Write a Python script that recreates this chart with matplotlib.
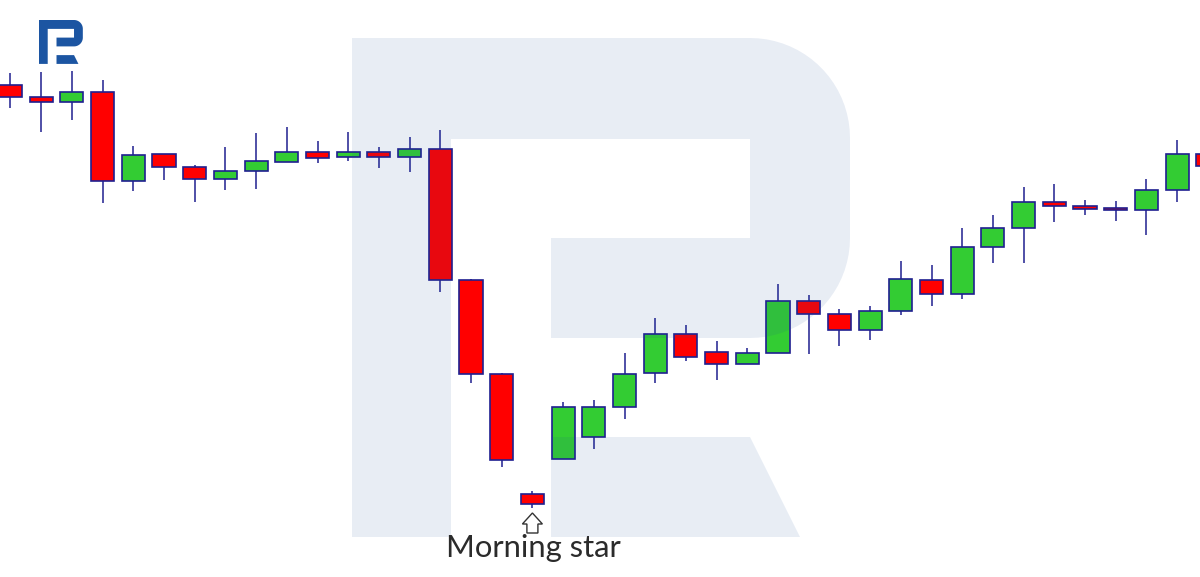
import numpy as np
import matplotlib
matplotlib.use("Agg")
import matplotlib.pyplot as plt
from matplotlib.patches import Polygon, Rectangle

# candle data (price units)
opens  = [492, 480, 475, 485, 396, 423, 410, 398, 406, 415, 425, 420, 425, 420, 428, 297, 203, 83,
          118, 140, 170, 204, 243, 225, 213, 224, 276, 263, 247, 266, 297, 283, 330, 349, 375, 371,
          369, 367, 387, 423]
closes = [480, 475, 485, 396, 422, 410, 398, 406, 416, 425, 419, 425, 420, 428, 297, 203, 117, 73,
          170, 170, 203, 243, 220, 213, 224, 276, 263, 247, 266, 298, 283, 330, 349, 375, 371, 368,
          367, 387, 423, 411]
highs  = [504, 505, 506, 497, 431, 423, 412, 430, 444, 450, 436, 445, 430, 440, 447, 298, 204, 86,
          175, 177, 224, 259, 252, 236, 229, 293, 282, 268, 271, 316, 312, 349, 362, 390, 393, 377,
          376, 398, 437, 430]
lows   = [469, 445, 457, 374, 386, 397, 375, 387, 388, 415, 414, 416, 409, 405, 285, 194, 110, 69,
          118, 128, 158, 194, 216, 197, 213, 224, 223, 231, 237, 262, 271, 278, 314, 314, 355, 362,
          356, 342, 375, 405]
label = "Morning star"
star_idx = 17

W, H = 1200, 577
fig = plt.figure(figsize=(12, 5.77), dpi=100)
fig.patch.set_facecolor("white")

ax = fig.add_axes([0, 0, 1, 1])
ax.set_xlim(-10.5 / 30.7, (W - 10.5) / 30.7)
ax.set_ylim(0, H)
ax.axis("off")

edge = "#1f1f90"
bw = 0.75
for i in range(len(opens)):
    o, c, h, l = opens[i], closes[i], highs[i], lows[i]
    col = "#33cc33" if c > o else "#ff0000"
    ax.plot([i, i], [l, h], color=edge, lw=1.1, zorder=1, solid_capstyle="butt")
    ax.add_patch(Rectangle((i - bw / 2, min(o, c)), bw, max(abs(c - o), 1.5),
                           facecolor=col, edgecolor=edge, lw=1.2, zorder=2))

# overlay in pixel coords for watermark, logo, arrow, text
ov = fig.add_axes([0, 0, 1, 1], zorder=5)
ov.set_xlim(0, W)
ov.set_ylim(H, 0)
ov.axis("off")
ov.patch.set_alpha(0)


def r_shapes(x0, y0, s):
    t1 = np.linspace(np.pi / 2, 0, 20)
    t2 = np.linspace(0, -np.pi / 2, 20)
    pts = [(352, 537), (352, 38)]
    pts += [(750 + 100 * np.cos(t), 138 - 100 * np.sin(t)) for t in t1]
    pts += [(750 + 100 * np.cos(t), 238 - 100 * np.sin(t)) for t in t2]
    pts += [(551, 338), (551, 238), (750, 238), (750, 139), (451, 139), (451, 537)]
    leg = [(551, 437), (750, 437), (800, 537), (551, 537)]
    f = lambda p: [((x - 352) * s + x0, (y - 38) * s + y0) for x, y in p]
    return f(pts), f(leg)


body, leg = r_shapes(352, 38, 1.0)
for p in (body, leg):
    ov.add_patch(Polygon(p, closed=True, facecolor="#1f4f99", alpha=0.1, lw=0))

body, leg = r_shapes(39, 20, 0.088)
for p in (body, leg):
    ov.add_patch(Polygon(p, closed=True, facecolor="#1c55a2", lw=0))

# hollow arrow under the morning star candle
cx = 10.5 + 30.7 * star_idx
arrow = [(cx, 513), (cx + 10, 524), (cx + 5.5, 524), (cx + 5.5, 533),
         (cx - 5.5, 533), (cx - 5.5, 524), (cx - 10, 524)]
ov.add_patch(Polygon(arrow, closed=True, facecolor="white", edgecolor="#333333", lw=1.0))

ov.text(533, 557, label, fontsize=22.3, family="Lato", color="#2b2b2b",
        ha="center", va="baseline")

fig.savefig("out.png", dpi=100)
